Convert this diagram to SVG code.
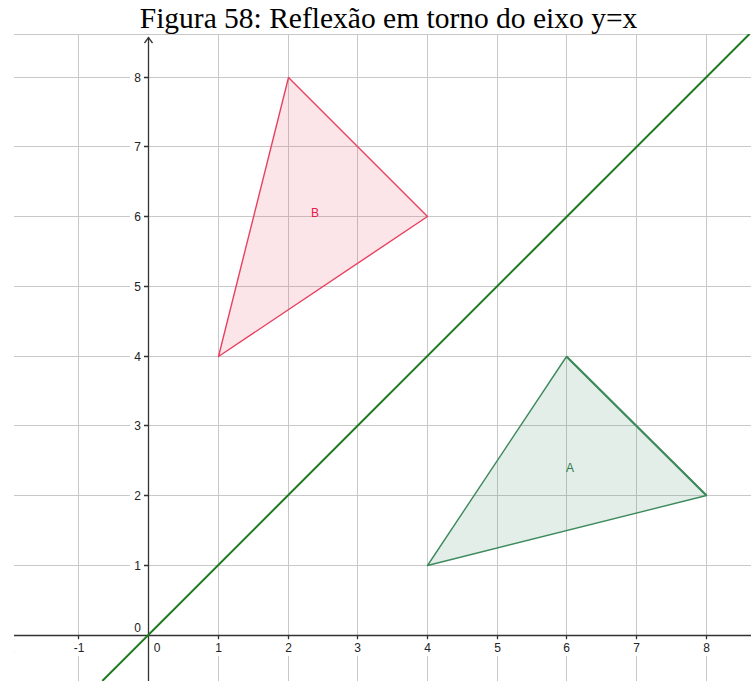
<svg xmlns="http://www.w3.org/2000/svg" width="751" height="681" viewBox="0 0 751 681">
<style>
.grid{stroke:#c8c8c8;stroke-width:1;fill:none}
.axis{stroke:#333;stroke-width:1.3;fill:none}
.tick{font-family:"Liberation Sans",Arial,sans-serif;font-size:12px;fill:#222}
.lblbg{fill:#fff}
.title{font-family:"Liberation Serif","Times New Roman",serif;font-size:29.5px;fill:#000}
</style>
<defs>
<clipPath id="plot"><rect x="14" y="34" width="737" height="647"/></clipPath>
</defs>
<rect width="751" height="681" fill="#fff"/>
<text class="title" x="388.5" y="28" text-anchor="middle">Figura 58: Reflexão em torno do eixo y=x</text>
<g clip-path="url(#plot)">
<g id="grid">
<line class="grid" x1="14" y1="34.5" x2="751" y2="34.5"/>
<path class="grid" d="M78.5,34V681 M218.5,34V681 M288.5,34V681 M357.5,34V681 M427.5,34V681 M497.5,34V681 M566.5,34V681 M636.5,34V681 M706.5,34V681"/>
<path class="grid" d="M14,77.5H751 M14,146.5H751 M14,216.5H751 M14,286.5H751 M14,356.5H751 M14,425.5H751 M14,495.5H751 M14,565.5H751"/>
</g>
<g id="labels" class="tick">
<rect class="lblbg" x="0" y="640" width="20" height="16"/>
<rect class="lblbg" x="69" y="640" width="20" height="16"/>
<rect class="lblbg" x="210" y="640" width="17" height="16"/>
<rect class="lblbg" x="280" y="640" width="17" height="16"/>
<rect class="lblbg" x="349" y="640" width="17" height="16"/>
<rect class="lblbg" x="419" y="640" width="17" height="16"/>
<rect class="lblbg" x="489" y="640" width="17" height="16"/>
<rect class="lblbg" x="558" y="640" width="17" height="16"/>
<rect class="lblbg" x="628" y="640" width="17" height="16"/>
<rect class="lblbg" x="698" y="640" width="17" height="16"/>
<rect class="lblbg" x="130" y="69" width="14" height="16"/>
<rect class="lblbg" x="130" y="138" width="14" height="16"/>
<rect class="lblbg" x="130" y="208" width="14" height="16"/>
<rect class="lblbg" x="130" y="278" width="14" height="16"/>
<rect class="lblbg" x="130" y="348" width="14" height="16"/>
<rect class="lblbg" x="130" y="417" width="14" height="16"/>
<rect class="lblbg" x="130" y="487" width="14" height="16"/>
<rect class="lblbg" x="130" y="557" width="14" height="16"/>
<text x="9" y="652" text-anchor="middle">-2</text>
<text x="79" y="652" text-anchor="middle">-1</text>
<text x="157" y="652" text-anchor="middle">0</text>
<text x="218.5" y="652" text-anchor="middle">1</text>
<text x="288.5" y="652" text-anchor="middle">2</text>
<text x="357.5" y="652" text-anchor="middle">3</text>
<text x="427.5" y="652" text-anchor="middle">4</text>
<text x="497.5" y="652" text-anchor="middle">5</text>
<text x="566.5" y="652" text-anchor="middle">6</text>
<text x="636.5" y="652" text-anchor="middle">7</text>
<text x="706.5" y="652" text-anchor="middle">8</text>
<text x="141" y="82" text-anchor="end">8</text>
<text x="141" y="151" text-anchor="end">7</text>
<text x="141" y="221" text-anchor="end">6</text>
<text x="141" y="291" text-anchor="end">5</text>
<text x="141" y="361" text-anchor="end">4</text>
<text x="141" y="430" text-anchor="end">3</text>
<text x="141" y="500" text-anchor="end">2</text>
<text x="141" y="570" text-anchor="end">1</text>
<text x="141" y="632" text-anchor="end">0</text>
</g>
<g id="axes">
<line class="axis" x1="14" y1="635.5" x2="751" y2="635.5"/>
<line class="axis" x1="148.5" y1="37" x2="148.5" y2="681"/>
<path class="axis" d="M144.5,43 L148.5,37.5 L152.5,43"/>
<path class="axis" d="M78.5,635V639 M218.5,635V639 M288.5,635V639 M357.5,635V639 M427.5,635V639 M497.5,635V639 M566.5,635V639 M636.5,635V639 M706.5,635V639"/>
<path class="axis" d="M144,77.5H148 M144,146.5H148 M144,216.5H148 M144,286.5H148 M144,356.5H148 M144,425.5H148 M144,495.5H148 M144,565.5H148"/>
</g>
<g id="line-yx">
<line x1="102.3" y1="681" x2="749.5" y2="34" stroke="#1e7a1e" stroke-width="2"/>
</g>
<g id="triangle-B">
<polygon points="218.5,356.5 288.5,77.5 427.5,216.5" fill="#e8536a" fill-opacity="0.15" stroke="#e8405e" stroke-width="1.4" stroke-linejoin="round"/>
<text x="315" y="217" text-anchor="middle" font-family="Liberation Sans,Arial,sans-serif" font-size="12" fill="#e0204a">B</text>
</g>
<g id="triangle-A">
<polygon points="427.5,565.5 566.5,356.5 706.5,495.5" fill="#3d8a5c" fill-opacity="0.15" stroke="#3d8a5c" stroke-width="1.4" stroke-linejoin="round"/>
<line x1="566.5" y1="356.5" x2="706.5" y2="495.5" stroke="#3d8a5c" stroke-width="2.2"/>
<text x="570" y="472" text-anchor="middle" font-family="Liberation Sans,Arial,sans-serif" font-size="12" fill="#2e7d4e">A</text>
</g>
</g>
</svg>
